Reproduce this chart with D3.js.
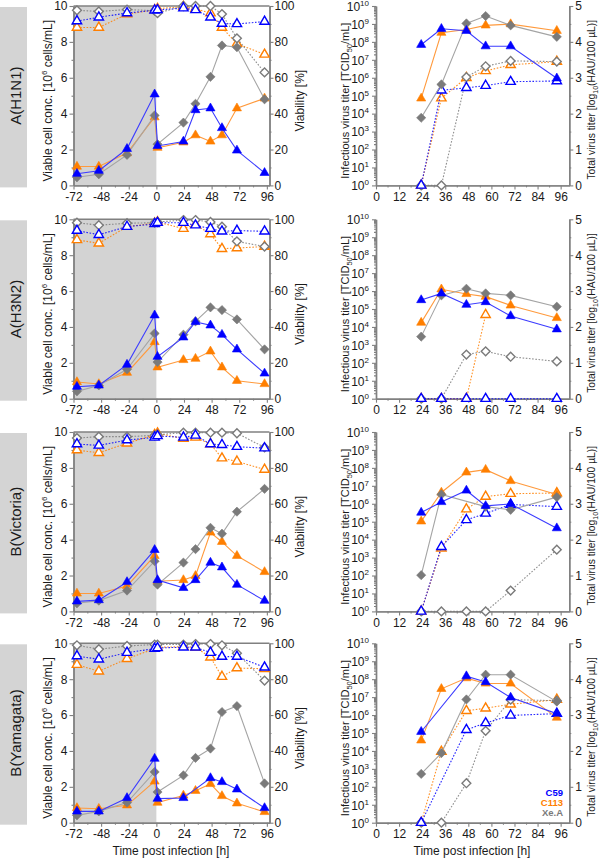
<!DOCTYPE html>
<html><head><meta charset="utf-8">
<script src="https://cdn.jsdelivr.net/npm/d3@7"></script>
<style>
body{margin:0;background:#fff}
svg{display:block}
text{font-family:"Liberation Sans",Arial,Helvetica,sans-serif}
</style>
</head><body>
<svg id="c" width="600" height="858"></svg>
<script>
// ---------------- DATA ----------------
const rowLabels = ["A(H1N1)", "A(H3N2)", "B(Victoria)", "B(Yamagata)"];
const strainNames = ["C59", "C113", "Xe.A"];
const cellTimes = [-69, -50, -25.5, -1.5, 1, 23.5, 34, 47, 57, 70, 94];
const titerTimes = [23.5, 34, 47, 57, 70, 94];
const cellTicks = [0, 2, 4, 6, 8, 10];
const viabTicks = [0, 20, 40, 60, 80, 100];
const leftTimeTicks = [-72, -48, -24, 0, 24, 48, 72, 96];
const rightTimeTicks = [0, 12, 24, 36, 48, 60, 72, 84, 96];
const infExpTicks = [0, 1, 2, 3, 4, 5, 6, 7, 8, 9, 10];
const totTicks = [0, 1, 2, 3, 4, 5];

// viable cell conc. [1e6 cells/mL]  (C59, C113, Xe.A)
const cellH1N1 = [
  [0.65, 0.82, 2.04, 5.08, 2.2, 2.45, 4.2, 4.3, 3.2, 1.95, 0.7],
  [1.05, 1.05, 1.8, 3.8, 2.1, 2.4, 2.8, 2.45, 2.8, 4.3, 4.85],
  [0.45, 0.62, 1.7, 3.9, 2.3, 3.5, 4.55, 6.05, 7.8, 7.7, 4.8]];
const cellH3N2 = [
  [0.67, 0.74, 1.9, 4.65, 2.34, 3.42, 4.28, 4.09, 3.57, 2.75, 1.41],
  [0.93, 0.82, 1.45, 3.16, 1.75, 2.16, 2.23, 2.64, 1.75, 1.0, 0.82],
  [0.41, 0.74, 1.64, 3.64, 2.04, 3.57, 4.31, 5.09, 4.94, 4.42, 2.75]];
const cellVic = [
  [0.56, 0.63, 1.64, 3.43, 1.75, 1.31, 1.75, 2.72, 2.46, 1.49, 0.6],
  [1.0, 1.0, 1.42, 3.1, 1.68, 1.75, 1.98, 4.4, 3.88, 3.1, 2.2],
  [0.45, 0.6, 1.16, 2.8, 1.49, 2.72, 3.47, 4.66, 4.33, 5.56, 6.83]];
const cellYam = [
  [0.63, 0.63, 1.38, 3.57, 1.34, 1.38, null, 2.49, 2.27, 1.86, 0.82],
  [0.82, 0.78, 0.97, 2.3, 1.12, 1.52, 1.78, 2.16, 1.49, 1.08, 0.6],
  [0.41, 0.63, 1.12, 2.83, 1.71, 2.64, 3.61, 4.13, 6.17, 6.5, 2.19]];

// viability [%]
const viabH1N1 = [
  [91.6, 93.7, 96.1, 97.6, 97.8, 98.8, 97.8, 93.7, 90.2, 90, 91.3],
  [88, 88, 95.5, 97.8, 98.5, 99.6, 98.5, 96, 88, 79, 73],
  [97.6, 97, 98, 97.4, 96, 100, 100, 100, 95.5, 82, 63]];
const viabH3N2 = [
  [93.7, 91.4, 95.9, 97.4, 98.1, 98.1, 96.7, 94.8, 93.3, 93.7, 93.3],
  [88.5, 86.6, 95.9, 97.8, 98.5, 94.8, 97, 91.8, 83.6, 84, 84.8],
  [98.1, 96.7, 97.8, 98.1, 98.5, 99.6, 99.6, 98.5, 95.9, 87.7, 84.8]];
const viabVic = [
  [93.3, 92.5, 95.5, 97, 97.8, 97, 98.1, 93.3, 92.9, 91.8, 91],
  [89.9, 88.4, 93.7, 98.5, 99.3, 96.3, 97, 93.3, 85.4, 83.6, 79.1],
  [96.6, 97.4, 97.4, 98.1, 98.5, 99.6, 99.6, 99.6, 99.6, 99.3, 91.4]];
const viabYam = [
  [92.9, 91.1, 94.8, 97, 97.4, 97.8, 97.8, 94.8, 92.6, 92.6, 86.6],
  [88.1, 84.4, 91.4, 97, 97.8, 98.1, 97.8, 92.2, 81.4, 86.2, 85.8],
  [98.9, 96.7, 98.5, 99.3, 99.3, 99.3, 99.6, 99.6, 98.9, 94.4, 79.2]];

// infectious virus titer, log10 TCID50/mL
const infH1N1 = [
  [7.84, 8.73, 8.62, 7.76, 7.76, 5.97],
  [4.85, 8.51, 8.69, 8.92, 8.99, 8.62],
  [3.77, 5.63, 9.03, 9.44, 8.92, 8.28]];
const infH3N2 = [
  [5.5, 5.87, 5.24, 5.39, 4.61, 3.87],
  [4.24, 6.1, 5.84, 5.69, 5.2, 4.5],
  [3.46, 5.76, 6.13, 5.87, 5.76, 5.13]];
const infVic = [
  [5.51, 6.1, 6.74, 5.88, 5.99, 4.64],
  [5.02, 6.63, 7.75, 7.9, 7.27, 6.52],
  [2.02, 6.52, null, 5.84, 5.66, 6.37]];
const infYam = [
  [5.07, null, 8.17, 7.84, 6.98, 6.08],
  [4.59, 7.46, 8.06, 7.76, 7.76, 5.86],
  [2.72, 3.88, 6.87, 8.25, 8.25, 6.75]];

// total virus titer, log10(HAU/100 uL)
const totH1N1 = [
  [0, 2.65, 2.72, 2.78, 2.89, 2.91],
  [0, 2.43, 3.0, 3.19, 3.36, 3.45],
  [0, 0, 3.02, 3.32, 3.47, 3.45]];
const totH3N2 = [
  [0, 0, 0, 0, 0, 0],
  [0, 0, 0, 2.34, null, null],
  [0, 0, 1.23, 1.32, 1.17, 1.04]];
const totVic = [
  [0, 1.8, 2.55, 2.73, 2.98, 2.92],
  [0, 1.76, 2.85, 3.2, 3.28, 3.3],
  [0, 0, 0, 0, 0.58, 1.72]];
const totYam = [
  [0, null, 2.59, 2.78, 2.99, 3.04],
  [0, 1.98, 3.12, 3.19, 3.3, 3.43],
  [0, 0, 1.1, 2.56, 3.43, 3.4]];

const cellRows = [cellH1N1, cellH3N2, cellVic, cellYam];
const viabRows = [viabH1N1, viabH3N2, viabVic, viabYam];
const infRows = [infH1N1, infH3N2, infVic, infYam];
const totRows = [totH1N1, totH3N2, totVic, totYam];

// ---------------- STYLE / LAYOUT ----------------
const markerColor = ["#0000ff", "#ff7f00", "#7a7a7a"];
const lineColor = ["#3c3cff", "#ff9a3d", "#a4a4a4"];
const shape = ["tri", "tri", "dia"];
const drawOrder = [1, 2, 0];
const axisColor = "#808080";
const textColor = "#1a1a1a";
const rowTops = [6, 219.3, 432, 643.3];
const plotH = 179.4;

const svg = d3.select("#c");
const xL = d3.scaleLinear().domain([-72, 98.3]).range([73.5, 269.5]);
const xR = d3.scaleLinear().domain([0, 100.5]).range([376, 569.3]);

const triFilled = d3.symbol().type(d3.symbolTriangle).size(36)();
const triOpen = d3.symbol().type(d3.symbolTriangle).size(38)();
const dia = r => `M0,${-r}L${r},0L0,${r}L${-r},0Z`;

function markerPath(s, filled) {
  if (shape[s] === "tri") return filled ? triFilled : triOpen;
  return dia(filled ? 4.6 : 4.4);
}

function styleAxis(g) {
  g.select(".domain").attr("stroke", axisColor).attr("stroke-width", 1.4);
  g.selectAll(".tick line").attr("stroke", axisColor).attr("stroke-width", 1.1);
  g.selectAll(".tick text").attr("fill", textColor).style("font-size", "12px");
}

function series(g, xs, ys, times, vals, s, filled) {
  const pts = times.map((t, i) => [t, vals[i]]).filter(d => d[1] !== null && d[1] !== undefined);
  const line = d3.line().x(d => xs(d[0])).y(d => ys(d[1]));
  g.append("path").attr("d", line(pts)).attr("fill", "none")
    .attr("stroke", filled ? lineColor[s] : markerColor[s])
    .attr("stroke-width", 1.1)
    .attr("stroke-dasharray", filled ? null : "1.6,1.6")
    .attr("opacity", filled ? 1 : 0.85);
  g.selectAll(null).data(pts).enter().append("path")
    .attr("d", markerPath(s, filled))
    .attr("transform", d => `translate(${xs(d[0])},${ys(d[1])})`)
    .attr("fill", filled ? markerColor[s] : "#fff")
    .attr("stroke", markerColor[s])
    .attr("stroke-width", filled ? 0.6 : 1.4);
}

function rotLabel(x, y, fs, parts) {
  const t = svg.append("text").attr("transform", `translate(${x},${y}) rotate(-90)`)
    .attr("text-anchor", "middle").attr("fill", textColor).style("font-size", fs + "px");
  parts.forEach(p => {
    const ts = t.append("tspan").text(p.t);
    if (p.dy) ts.attr("dy", p.dy);
    if (p.fs) ts.style("font-size", p.fs + "px");
  });
  return t;
}

rowLabels.forEach((lab, r) => {
  const top = rowTops[r], bot = top + plotH;
  const cy = (top + bot) / 2;

  // row label box
  svg.append("rect").attr("x", 0).attr("y", top + 1).attr("width", 27).attr("height", plotH + 1)
    .attr("fill", "#d4d4d4");
  svg.append("text").attr("transform", `translate(20.5,${cy}) rotate(-90)`)
    .attr("text-anchor", "middle").attr("fill", textColor).style("font-size", "15px").text(lab);

  // ---------- left panel ----------
  const yC = d3.scaleLinear().domain([0, 10]).range([bot, top]);
  const yV = d3.scaleLinear().domain([0, 100]).range([bot, top]);
  const gl = svg.append("g");
  gl.append("rect").attr("x", xL(-72)).attr("y", top).attr("width", xL(0) - xL(-72)).attr("height", bot - top)
    .attr("fill", "#d3d3d3");
  gl.append("line").attr("x1", xL.range()[0]).attr("x2", xL.range()[1]).attr("y1", top).attr("y2", top)
    .attr("stroke", axisColor).attr("stroke-width", 1.4);

  // minor ticks
  gl.append("g").attr("transform", `translate(${xL.range()[0]},0)`)
    .call(d3.axisLeft(yC).tickValues([1, 3, 5, 7, 9]).tickSize(2).tickFormat("").tickSizeOuter(0)).call(styleAxis);
  gl.append("g").attr("transform", `translate(${xL.range()[1]},0)`)
    .call(d3.axisRight(yV).tickValues([10, 30, 50, 70, 90]).tickSize(2).tickFormat("").tickSizeOuter(0)).call(styleAxis);
  gl.append("g").attr("transform", `translate(0,${bot})`)
    .call(d3.axisBottom(xL).tickValues([-60, -36, -12, 12, 36, 60, 84]).tickSize(2).tickFormat("").tickSizeOuter(0)).call(styleAxis);

  gl.append("g").attr("transform", `translate(${xL.range()[0]},0)`)
    .call(d3.axisLeft(yC).tickValues(cellTicks).tickSize(4).tickPadding(2).tickSizeOuter(0).tickFormat(d3.format("d"))).call(styleAxis);
  gl.append("g").attr("transform", `translate(${xL.range()[1]},0)`)
    .call(d3.axisRight(yV).tickValues(viabTicks).tickSize(4).tickPadding(1).tickSizeOuter(0).tickFormat(d3.format("d"))).call(styleAxis);
  gl.append("g").attr("transform", `translate(0,${bot})`)
    .call(d3.axisBottom(xL).tickValues(leftTimeTicks).tickSize(4).tickPadding(3).tickSizeOuter(0)
      .tickFormat(d => d < 0 ? "-" + Math.abs(d) : String(d))).call(styleAxis);

  drawOrder.forEach(s => series(gl, xL, yV, cellTimes, viabRows[r][s], s, false));
  drawOrder.forEach(s => series(gl, xL, yC, cellTimes, cellRows[r][s], s, true));

  rotLabel(52, cy + 5, 12, [{t: "Viable cell conc. [10"}, {t: "6", dy: -5, fs: 8}, {t: " cells/mL]", dy: 5}]);
  rotLabel(304, cy + 5, 12, [{t: "Viability [%]"}]);

  // ---------- right panel ----------
  const yI = d3.scaleLog().domain([1, 1e10]).range([bot, top]);
  const yT = d3.scaleLinear().domain([0, 5]).range([bot, top]);
  const gr = svg.append("g");
  const minor = [];
  for (let e = 0; e < 10; e++) for (let k = 2; k <= 9; k++) minor.push(k * Math.pow(10, e));
  gr.append("g").attr("transform", `translate(${xR.range()[0]},0)`)
    .call(d3.axisLeft(yI).tickValues(minor).tickSize(2).tickFormat("").tickSizeOuter(0)).call(styleAxis);
  gr.append("g").attr("transform", `translate(${xR.range()[1]},0)`)
    .call(d3.axisRight(yT).tickValues([0.5, 1.5, 2.5, 3.5, 4.5]).tickSize(2).tickFormat("").tickSizeOuter(0)).call(styleAxis);
  gr.append("g").attr("transform", `translate(0,${bot})`)
    .call(d3.axisBottom(xR).tickValues([6, 18, 30, 42, 54, 66, 78, 90]).tickSize(2).tickFormat("").tickSizeOuter(0)).call(styleAxis);

  const ya = gr.append("g").attr("transform", `translate(${xR.range()[0]},0)`)
    .call(d3.axisLeft(yI).tickValues(infExpTicks.map(e => Math.pow(10, e))).tickSize(4).tickPadding(3).tickSizeOuter(0).tickFormat(""))
    .call(styleAxis);
  ya.selectAll(".tick").each(function(d) {
    const e = Math.round(Math.log10(d));
    const t = d3.select(this).append("text").attr("x", -7).attr("dy", "0.36em")
      .attr("text-anchor", "end").attr("fill", textColor).style("font-size", "12px");
    t.append("tspan").text("10");
    t.append("tspan").text(e).attr("dy", -5).style("font-size", "8px");
  });
  gr.append("g").attr("transform", `translate(${xR.range()[1]},0)`)
    .call(d3.axisRight(yT).tickValues(totTicks).tickSize(4).tickPadding(2).tickSizeOuter(0).tickFormat(d3.format("d"))).call(styleAxis);
  gr.append("g").attr("transform", `translate(0,${bot})`)
    .call(d3.axisBottom(xR).tickValues(rightTimeTicks).tickSize(4).tickPadding(3).tickSizeOuter(0).tickFormat(d3.format("d"))).call(styleAxis);

  drawOrder.forEach(s => series(gr, xR, yT, titerTimes, totRows[r][s], s, false));
  drawOrder.forEach(s => series(gr, xR, yI, titerTimes,
    infRows[r][s].map(v => v === null ? null : Math.pow(10, v)), s, true));

  rotLabel(349, cy + 5, 11, [{t: "Infectious virus titer [TCID"}, {t: "50", dy: 3, fs: 7.5}, {t: "/mL]", dy: -3}]);
  rotLabel(595, cy + 4, 10.3, [{t: "Total virus titer [log"}, {t: "10", dy: 3, fs: 7}, {t: "(HAU/100 µL)]", dy: -3}]);
});

// x-axis titles
svg.append("text").attr("x", 171).attr("y", 855).attr("text-anchor", "middle")
  .attr("fill", textColor).style("font-size", "12px").text("Time post infection [h]");
svg.append("text").attr("x", 472).attr("y", 855).attr("text-anchor", "middle")
  .attr("fill", textColor).style("font-size", "12px").text("Time post infection [h]");

// legend
strainNames.forEach((n, i) => {
  svg.append("text").attr("x", 563).attr("y", 796 + i * 10.2).attr("text-anchor", "end")
    .attr("fill", markerColor[i]).style("font-size", "9.5px").style("font-weight", "bold").text(n);
});
</script>
</body></html>
